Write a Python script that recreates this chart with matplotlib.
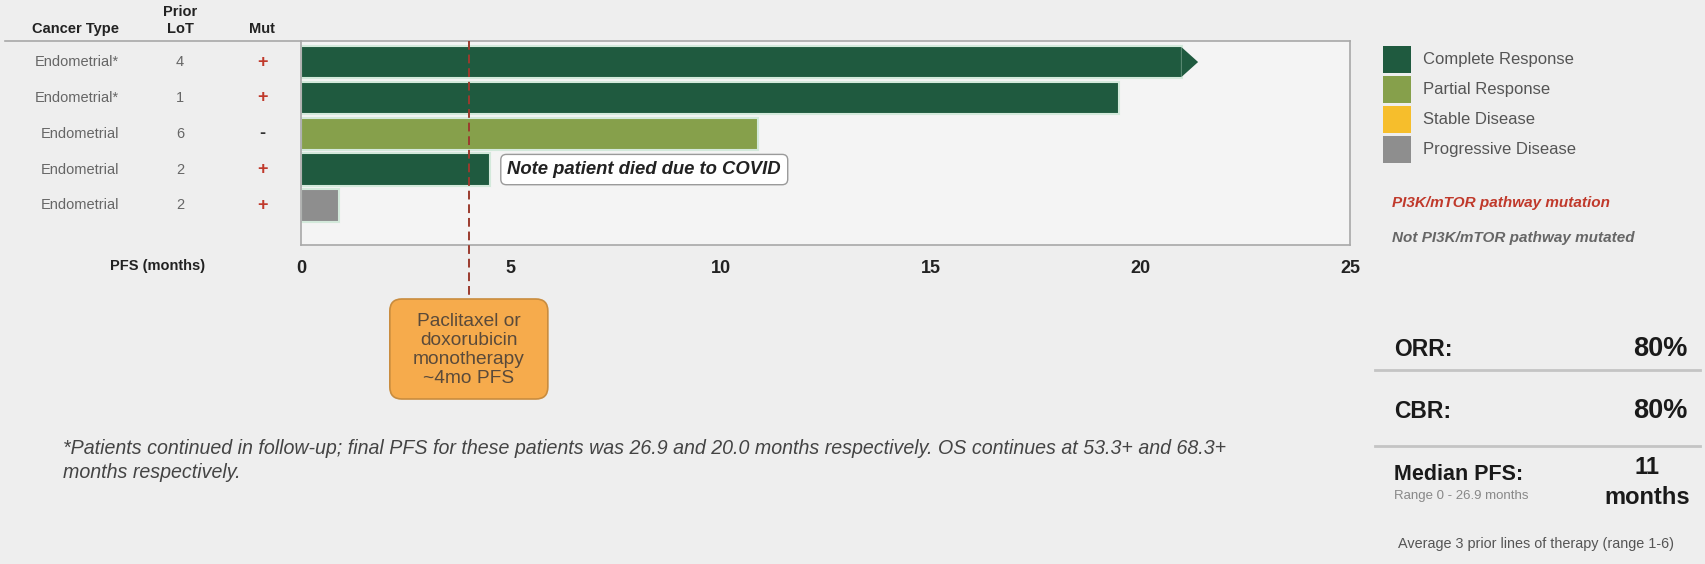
import matplotlib
matplotlib.use("Agg")
import matplotlib.pyplot as plt
import matplotlib.transforms as mtransforms
from matplotlib.patches import Rectangle, FancyBboxPatch, Polygon
import numpy as np

plt.rcParams['font.family'] = ['Liberation Sans', 'DejaVu Sans']

# data
cancer_type = ['Endometrial*', 'Endometrial*', 'Endometrial', 'Endometrial', 'Endometrial']
prior_lot = ['4', '1', '6', '2', '2']
mutation = ['+', '+', '-', '+', '+']
pfs_months = [21.0, 19.5, 10.9, 4.5, 0.9]
response = ['CR', 'CR', 'PR', 'CR', 'PD']
ongoing = [True, False, False, False, False]
x_ticks = [0, 5, 10, 15, 20, 25]
chemo_pfs = 4

resp_colors = {'CR': '#1f5a3f', 'PR': '#86a04b', 'SD': '#f6be2c', 'PD': '#8e8e8e'}
legend_labels = ['Complete Response', 'Partial Response', 'Stable Disease', 'Progressive Disease']
legend_keys = ['CR', 'PR', 'SD', 'PD']

stats_labels = ['ORR:', 'CBR:']
stats_values = ['80%', '80%']

W, H = 1705, 564
BG = '#eeeeee'

fig = plt.figure(figsize=(W / 100, H / 100), dpi=100, facecolor=BG)


def fx(px):
    return px / W


def fy(py):
    return 1 - py / H


# main axes: 301..1350 px wide, 41..245 px tall
ax_top, ax_bot = 41, 245
ax = fig.add_axes([fx(301), fy(ax_bot), (1350 - 301) / W, (ax_bot - ax_top) / H])
ax.set_facecolor('#f4f4f4')
ax.set_xlim(0, 25)
ax.set_ylim(5.105, -0.587)
for s in ax.spines.values():
    s.set_color('#a8a8a8')
    s.set_linewidth(1.2)
ax.set_yticks([])
ax.set_xticks(x_ticks)
ax.set_xticklabels([str(t) for t in x_ticks], fontsize=13, fontweight='bold', color='#222222')
ax.tick_params(axis='x', length=0, pad=11)

ypos = np.arange(len(pfs_months))
bar_h = 0.9
colors = [resp_colors[r] for r in response]
ax.barh(ypos, pfs_months, height=bar_h, color=colors, edgecolor='#d3e9db', linewidth=1.5, zorder=2)

# arrow heads for patients still in follow-up
for y, v, c, on in zip(ypos, pfs_months, colors, ongoing):
    if on:
        tri = Polygon([(v - 0.02, y - bar_h / 2 + 0.03), (v + 0.38, y), (v - 0.02, y + bar_h / 2 - 0.03)],
                      closed=True, facecolor=c, edgecolor='none', zorder=2)
        ax.add_patch(tri)

# dashed reference line for chemo PFS, running down to the orange box
box_top, box_bot = 299, 399
ax_h = ax_bot - ax_top
blend = mtransforms.blended_transform_factory(ax.transData, ax.transAxes)
ax.plot([chemo_pfs, chemo_pfs], [1, (ax_bot - box_top) / ax_h], transform=blend,
        color='#9b3b2e', lw=1.4, dashes=(4.5, 2.5), clip_on=False, zorder=4)

# covid note next to 4th bar
ax.text(pfs_months[3] + 0.42, 3, 'Note patient died due to COVID', fontsize=13.3,
        fontweight='bold', fontstyle='italic', color='#222222', va='center', ha='left',
        bbox=dict(boxstyle='round,pad=0.36,rounding_size=0.3', fc='white', ec='#9a9a9a', lw=1),
        zorder=5)

# orange box with chemo comparison
fig.canvas.draw()
cx = ax.transData.transform((chemo_pfs, 0))[0]
bw = 158
box = FancyBboxPatch((cx - bw / 2, H - box_bot), bw, box_bot - box_top,
                     boxstyle='round,pad=0,rounding_size=12',
                     transform=mtransforms.IdentityTransform(),
                     facecolor='#f6ab4c', edgecolor='#c98c3e', lw=1.2)
fig.add_artist(box)
fig.text(cx / W, fy((box_top + box_bot) / 2 + 1), 'Paclitaxel or\ndoxorubicin\nmonotherapy\n~4mo PFS',
         ha='center', va='center', fontsize=13.8, color='#5a4a3a', linespacing=1.15)

# table on the left
row_tr = mtransforms.blended_transform_factory(fig.transFigure, ax.transData)
for y, ct, lot, mut in zip(ypos, cancer_type, prior_lot, mutation):
    fig.text(fx(119), y, ct, transform=row_tr, ha='right', va='center', fontsize=10.5, color='#666666')
    fig.text(fx(180), y, lot, transform=row_tr, ha='center', va='center', fontsize=10.5, color='#666666')
    if mut == '+':
        fig.text(fx(262), y, '+', transform=row_tr, ha='center', va='center', fontsize=13,
                 fontweight='bold', color='#c0392b')
    else:
        fig.text(fx(262), y, '-', transform=row_tr, ha='center', va='center', fontsize=13,
                 fontweight='bold', color='#333333')

fig.text(fx(119), fy(29), 'Cancer Type', ha='right', va='center', fontsize=10.5, fontweight='bold', color='#222222')
fig.text(fx(180), fy(12), 'Prior', ha='center', va='center', fontsize=10.5, fontweight='bold', color='#222222')
fig.text(fx(180), fy(29), 'LoT', ha='center', va='center', fontsize=10.5, fontweight='bold', color='#222222')
fig.text(fx(262), fy(29), 'Mut', ha='center', va='center', fontsize=10.5, fontweight='bold', color='#222222')
fig.add_artist(plt.Line2D([fx(5), fx(301)], [fy(41), fy(41)], color='#a8a8a8', lw=1.2))

fig.text(fx(158), fy(266), 'PFS (months)', ha='center', va='center', fontsize=10.5, fontweight='bold', color='#222222')

# legend
sq = 27
for i, (k, lab) in enumerate(zip(legend_keys, legend_labels)):
    top = 46 + i * 30
    fig.add_artist(Rectangle((1383, H - top - sq), 28, sq, transform=mtransforms.IdentityTransform(),
                             facecolor=resp_colors[k], edgecolor='none'))
    fig.text(fx(1423), fy(top + sq / 2), lab, ha='left', va='center', fontsize=12, color='#555555')

fig.text(fx(1392), fy(203), 'PI3K/mTOR pathway mutation', ha='left', va='center', fontsize=11,
         fontweight='bold', fontstyle='italic', color='#c0392b')
fig.text(fx(1392), fy(238), 'Not PI3K/mTOR pathway mutated', ha='left', va='center', fontsize=11,
         fontweight='bold', fontstyle='italic', color='#666666')

# summary stats
for i, (lab, val) in enumerate(zip(stats_labels, stats_values)):
    yy = 349 + i * 62
    fig.text(fx(1394), fy(yy), lab, ha='left', va='center', fontsize=16.5, fontweight='bold', color='#1a1a1a')
    fig.text(fx(1687), fy(yy), val, ha='right', va='center', fontsize=19.5, fontweight='bold', color='#1a1a1a')
    ly = 370 + i * 76
    fig.add_artist(plt.Line2D([fx(1375), fx(1700)], [fy(ly), fy(ly)], color='#c4c4c4', lw=2))

fig.text(fx(1394), fy(475), 'Median PFS:', ha='left', va='center', fontsize=15.5, fontweight='bold', color='#1a1a1a')
fig.text(fx(1394), fy(496), 'Range 0 - 26.9 months', ha='left', va='center', fontsize=9.5, color='#888888')
fig.text(fx(1647), fy(467), '11', ha='center', va='center', fontsize=17, fontweight='bold', color='#1a1a1a')
fig.text(fx(1647), fy(497), 'months', ha='center', va='center', fontsize=17, fontweight='bold', color='#1a1a1a')
fig.text(fx(1536), fy(544), 'Average 3 prior lines of therapy (range 1-6)', ha='center', va='center',
         fontsize=10.4, color='#555555')

# footnote
fig.text(fx(63), fy(448), '*Patients continued in follow-up; final PFS for these patients was 26.9 and 20.0 months '
         'respectively. OS continues at 53.3+ and 68.3+', ha='left', va='center', fontsize=14.1,
         fontstyle='italic', color='#444444')
fig.text(fx(63), fy(473), 'months respectively.', ha='left', va='center', fontsize=14.1,
         fontstyle='italic', color='#444444')

fig.savefig('out.png', dpi=100, facecolor=BG)
